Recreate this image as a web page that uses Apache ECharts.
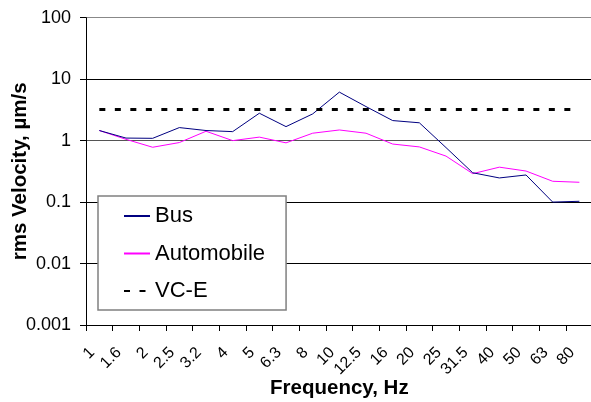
<!DOCTYPE html>
<html>
<head>
<meta charset="utf-8">
<script src="https://cdn.jsdelivr.net/npm/echarts@6/dist/echarts.min.js"></script>
<style>html,body{margin:0;padding:0;background:#fff}#c{width:591px;height:402px}</style>
</head>
<body>
<div id="c"></div>
<script>
const categories = ['1','1.6','2','2.5','3.2','4','5','6.3','8','10','12.5','16','20','25','31.5','40','50','63','80'];
const bus = [1.46, 1.10, 1.09, 1.63, 1.46, 1.40, 2.79, 1.69, 2.72, 6.15, 3.58, 2.12, 1.95, 0.77, 0.30, 0.247, 0.276, 0.100, 0.103];
const automobile = [1.46, 1.05, 0.78, 0.93, 1.42, 1.00, 1.14, 0.92, 1.32, 1.49, 1.32, 0.88, 0.79, 0.56, 0.29, 0.37, 0.32, 0.218, 0.21];
const vce = [3.2, 3.2, 3.2, 3.2, 3.2, 3.2, 3.2, 3.2, 3.2, 3.2, 3.2, 3.2, 3.2, 3.2, 3.2, 3.2, 3.2, 3.2, 3.2];
const yTicks = [0.001, 0.01, 0.1, 1, 10, 100];

const font = 'Liberation Sans, Arial, sans-serif';
const chart = echarts.init(document.getElementById('c'), null, {renderer: 'canvas'});
chart.setOption({
  animation: false,
  backgroundColor: '#fff',
  textStyle: {fontFamily: font},
  grid: {left: 86, top: 17.7, width: 506.7, height: 307.3, containLabel: false, outerBoundsMode: 'none'},
  xAxis: {
    type: 'category',
    data: categories,
    boundaryGap: true,
    name: 'Frequency, Hz',
    nameLocation: 'middle',
    nameGap: 53,
    nameMoveOverlap: false,
    nameTextStyle: {fontFamily: font, fontSize: 20.5, fontWeight: 'bold', color: '#000'},
    axisLine: {lineStyle: {color: '#000', width: 1}},
    axisTick: {show: true, length: 6, lineStyle: {color: '#000'}},
    axisLabel: {rotate: 45, fontFamily: font, fontSize: 16, color: '#000', margin: 18, padding: [0, 10, 0, 0], interval: 0, hideOverlap: false},
    splitLine: {show: false}
  },
  yAxis: {
    type: 'log',
    logBase: 10,
    min: yTicks[0],
    max: yTicks[yTicks.length - 1],
    name: 'rms Velocity, \u00b5m/s',
    nameLocation: 'middle',
    nameGap: 55,
    nameMoveOverlap: false,
    nameTextStyle: {fontFamily: font, fontSize: 20.5, fontWeight: 'bold', color: '#000'},
    axisLine: {show: true, lineStyle: {color: '#000', width: 1}},
    axisTick: {show: true, length: 6, lineStyle: {color: '#000'}},
    axisLabel: {fontFamily: font, fontSize: 18, color: '#000', margin: 15,
      formatter: v => String(+v.toPrecision(3))},
    splitLine: {show: true, lineStyle: {color: ['#000', '#000', '#000', '#555', '#000', '#888'], width: 1}}
  },
  legend: {
    orient: 'vertical',
    left: 98,
    top: 196,
    padding: [8, 21, 7, 25],
    itemWidth: 26,
    itemHeight: 14,
    itemGap: 13.5,
    backgroundColor: '#fff',
    borderColor: '#808080',
    borderWidth: 1.5,
    borderRadius: 0,
    itemStyle: {opacity: 0},
    textStyle: {fontFamily: font, fontSize: 22, color: '#000', lineHeight: 24},
    data: ['Bus', 'Automobile', 'VC-E']
  },
  series: [
    {name: 'Bus', type: 'line', data: bus, symbol: 'none', lineStyle: {color: '#000080', width: 1}, itemStyle: {color: '#000080'}, z: 3},
    {name: 'Automobile', type: 'line', data: automobile, symbol: 'none', lineStyle: {color: '#ff00ff', width: 1}, itemStyle: {color: '#ff00ff'}, z: 2},
    {name: 'VC-E', type: 'line', data: vce, symbol: 'none', lineStyle: {color: '#000', width: 3, type: [6, 9.5]}, itemStyle: {color: '#000'}, z: 4}
  ]
});
</script>
</body>
</html>
